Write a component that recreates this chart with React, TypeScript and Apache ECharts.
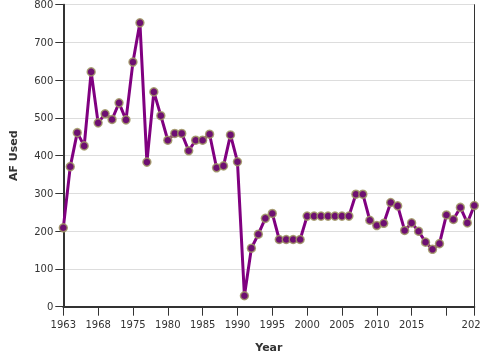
import React, { useEffect, useRef } from "react";
import * as echarts from "echarts";

const years: string[] = [
  "1963", "1964", "1965", "1966", "1967", "1968", "1970", "1971", "1972", "1973",
  "1975", "1976", "1977", "1978", "1979", "1980", "1981", "1982", "1983", "1984",
  "1985", "1986", "1987", "1988", "1989", "1990", "1991", "1992", "1993", "1994",
  "1995", "1996", "1997", "1998", "1999", "2000", "2001", "2002", "2003", "2004",
  "2005", "2006", "2007", "2008", "2009", "2010", "2011", "2012", "2013", "2014",
  "2015", "2016", "2017", "2018", "2019", "2020", "2021", "2022", "2023", "2024",
];

const afUsed: number[] = [
  209, 371, 461, 426, 622, 487, 511, 496, 540, 495,
  648, 752, 383, 569, 506, 441, 459, 459, 413, 441,
  441, 457, 368, 373, 455, 384, 29, 155, 192, 234,
  247, 178, 178, 178, 178, 240, 240, 240, 240, 240,
  240, 240, 298, 298, 229, 215, 221, 276, 267, 202,
  222, 200, 171, 152, 167, 243, 231, 263, 222, 268,
];

const yTicks = { min: 0, max: 800, interval: 100 };

export default function App() {
  const ref = useRef<HTMLDivElement>(null);
  useEffect(() => {
    if (!ref.current) return;
    const chart = echarts.init(ref.current, undefined, { renderer: "svg" });
    const last = years.length - 1;
    const showIdx = (i: number) => i % 5 === 0 || i === last;
    chart.setOption({
      animation: false,
      textStyle: { fontFamily: "DejaVu Sans" },
      grid: { left: 63.3, right: 5.7, top: 4.7, bottom: 53.3, containLabel: false, outerBoundsMode: "none" },
      xAxis: [
        {
          type: "category",
          data: years,
          boundaryGap: false,
          name: "Year",
          nameLocation: "middle",
          nameGap: 35,
          nameTextStyle: { fontSize: 11, fontWeight: "bold", color: "#333", fontFamily: "DejaVu Sans" },
          axisLine: { show: true, lineStyle: { color: "#333", width: 2 } },
          axisTick: { show: true, alignWithLabel: true, interval: (i: number) => showIdx(i), length: 9, lineStyle: { color: "#333", width: 1 } },
          axisLabel: {
            interval: (i: number) => showIdx(i),
            formatter: (v: string) => (v === "2020" ? "" : v),
            fontSize: 10,
            color: "#333",
            margin: 13,
            hideOverlap: false,
            fontFamily: "DejaVu Sans",
          },
          splitLine: { show: false },
        },
        {
          type: "category",
          data: years,
          boundaryGap: false,
          position: "top",
          axisLine: { show: true, lineStyle: { color: "#333", width: 1 } },
          axisTick: { show: false },
          axisLabel: { show: false },
          splitLine: { show: false },
        },
      ],
      yAxis: [
        {
          type: "value",
          min: yTicks.min,
          max: yTicks.max,
          interval: yTicks.interval,
          name: "AF Used",
          nameLocation: "middle",
          nameGap: 44,
          nameTextStyle: { fontSize: 11, fontWeight: "bold", color: "#333", fontFamily: "DejaVu Sans" },
          axisLine: { show: true, lineStyle: { color: "#333", width: 2 } },
          axisTick: { show: true, length: 8, lineStyle: { color: "#333", width: 1 } },
          axisLabel: { fontSize: 10, color: "#333", margin: 10, fontFamily: "DejaVu Sans" },
          splitLine: { show: true, lineStyle: { color: "#ddd", width: 1 } },
        },
        {
          type: "value",
          min: yTicks.min,
          max: yTicks.max,
          interval: yTicks.interval,
          position: "right",
          axisLine: { show: true, lineStyle: { color: "#333", width: 1 } },
          axisTick: { show: false },
          axisLabel: { show: false },
          splitLine: { show: false },
        },
      ],
      series: [
        {
          type: "line",
          data: afUsed,
          xAxisIndex: 0,
          yAxisIndex: 0,
          symbol: "circle",
          symbolSize: 8,
          showAllSymbol: true,
          lineStyle: { color: "#800080", width: 3 },
          itemStyle: { color: "#6e0f72", borderColor: "rgba(160,150,100,0.85)", borderWidth: 1.5 },
          z: 3,
        },
      ],
    });
    return () => chart.dispose();
  }, []);
  return (
    <div
      ref={ref}
      style={{ position: "fixed", left: 0, top: 0, width: 480, height: 360 }}
    />
  );
}
